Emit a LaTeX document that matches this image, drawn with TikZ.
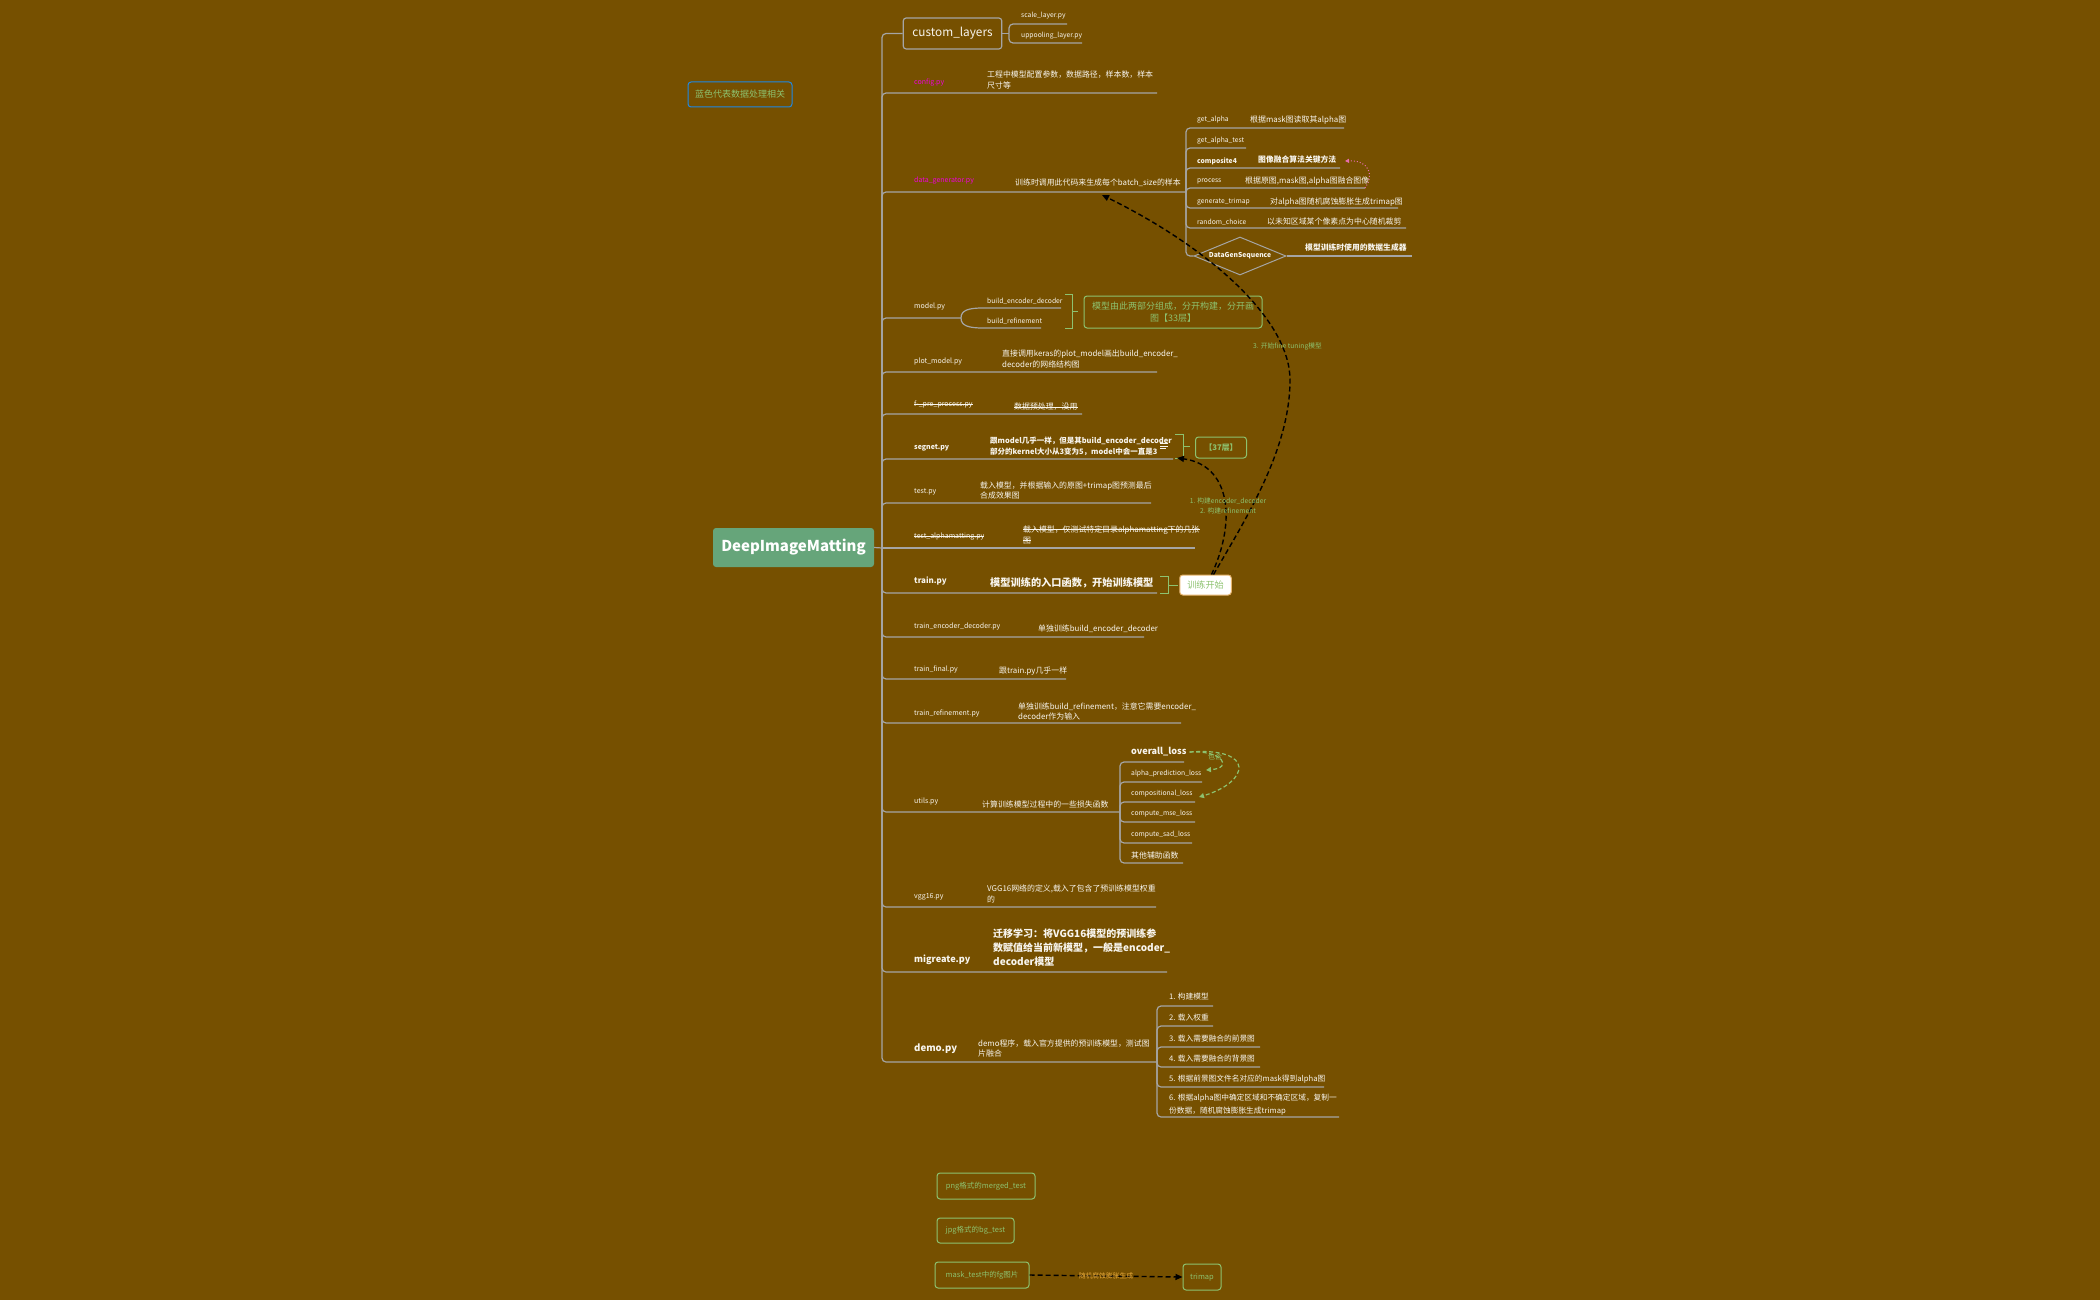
\documentclass[tikz,border=0pt]{standalone}
\usepackage{fontspec}
\setmainfont{Noto Sans CJK SC}
\usetikzlibrary{arrows.meta,shapes.geometric}
\definecolor{bg}{RGB}{118,80,0}
\definecolor{ln}{RGB}{165,165,165}
\definecolor{gr}{RGB}{141,194,111}
\definecolor{rootc}{RGB}{102,165,122}
\definecolor{mag}{RGB}{240,0,220}
\definecolor{pinkc}{RGB}{232,110,175}
\definecolor{bluec}{RGB}{30,136,229}
\definecolor{orc}{RGB}{232,170,60}
\definecolor{orb}{RGB}{230,180,110}
\definecolor{txt}{RGB}{248,245,238}
\newcommand\fsz[2]{\fontsize{#1}{#2}\selectfont}
\begin{document}
\begin{tikzpicture}[x=1pt,y=-1pt,
 conn/.style={draw=ln,line width=1.2pt,rounded corners=4pt},
 lbl/.style={anchor=west,inner sep=0pt,text=txt,font=\fsz{7}{8}},
 blbl/.style={lbl,font=\bfseries\fsz{7}{8}},
 sub/.style={anchor=west,inner sep=0pt,text=txt,font=\fsz{6.75}{8}},
 dsc/.style={anchor=west,inner sep=0pt,text=txt,font=\fsz{7.9}{10.5},align=left},
 bdsc/.style={anchor=west,inner sep=0pt,text=txt,font=\bfseries\fsz{7.8}{11},align=left},
 big/.style={anchor=west,inner sep=0pt,text=txt,font=\bfseries\fsz{9.1}{10}},
 gbox/.style={draw=gr,line width=1pt,rounded corners=3pt,text=gr,font=\fsz{7.5}{9},inner sep=0pt},
 darr/.style={draw=black,line width=1.4pt,dash pattern=on 5pt off 3pt,-{Triangle[length=7pt,width=6pt]}},
 garr/.style={draw=gr,line width=1.2pt,dash pattern=on 4pt off 2.5pt,-{Triangle[length=5pt,width=5pt]}},
 brk/.style={draw=gr,line width=1pt},
 strk/.style={draw=txt,line width=0.6pt},
]
\fill[bg] (0,0) rectangle (2100,1300);
\useasboundingbox (0,0) rectangle (2100,1300);

% legend
\node[draw=bluec,line width=1pt,rounded corners=3pt,text=gr,font=\fsz{9}{11},minimum width=104pt,minimum height=25pt,inner sep=0] (legend) at (740,94.5) {蓝色代表数据处理相关};

% root
\node[fill=rootc,rounded corners=3pt,text=white,font=\bfseries\fsz{15}{18},minimum width=161pt,minimum height=39pt,inner sep=0] (root) at (793.5,547.5) {DeepImageMatting};
\coordinate (J) at (882,548);
\draw[conn] (root.east) -- (J);

% custom_layers
\node[draw=ln,line width=1.2pt,rounded corners=3pt,text=txt,font=\fsz{11.8}{13},minimum width=98.6pt,minimum height=31pt,inner sep=0] (custom) at (952.5,33.5) {custom\_layers};
\draw[conn] (J) |- (custom.west);
\coordinate (cJ) at (1009,33.5);
\draw[conn] (custom.east) -- (cJ);
\node[sub] (scale) at (1021,16) {scale\_layer.py};
\coordinate (e_scale) at (1067,24);
\draw[conn] (cJ) |- (e_scale);
\node[sub] (upp) at (1021,36) {uppooling\_layer.py};
\coordinate (e_upp) at (1082,43);
\draw[conn] (cJ) |- (e_upp);

% config
\node[lbl,text=mag] (config) at (914,83) {config.py};
\node[dsc] (config_d) at (987,80) {工程中模型配置参数，数据路径，样本数，样本\\尺寸等};
\coordinate (e_config) at (1157,93);
\draw[conn] (J) |- (e_config);

% data_generator
\node[lbl,text=mag] (datagen) at (914,181) {data\_generator.py};
\node[dsc] (datagen_d) at (1015,183) {训练时调用此代码来生成每个batch\_size的样本};
\coordinate (gJ) at (1186,192);
\draw[conn] (J) |- (gJ);
\node[sub] (ga) at (1197,120) {get\_alpha};
\node[dsc] (ga_d) at (1250,120) {根据mask图读取其alpha图};
\coordinate (e_ga) at (1344,128);
\draw[conn] (gJ) |- (e_ga);
\node[sub] (gat) at (1197,141) {get\_alpha\_test};
\coordinate (e_gat) at (1246,148);
\draw[conn] (gJ) |- (e_gat);
\node[sub,font=\bfseries\fsz{6.75}{8}] (c4) at (1197,161) {composite4};
\node[bdsc] (c4_d) at (1258,160) {图像融合算法关键方法};
\coordinate (e_c4) at (1340,168);
\draw[conn] (gJ) |- (e_c4);
\node[sub] (proc) at (1197,181) {process};
\node[dsc] (proc_d) at (1245,181) {根据原图,mask图,alpha图融合图像};
\coordinate (e_proc) at (1365,188);
\draw[conn] (gJ) |- (e_proc);
\node[sub] (gt) at (1197,202) {generate\_trimap};
\node[dsc] (gt_d) at (1270,202) {对alpha图随机腐蚀膨胀生成trimap图};
\coordinate (e_gt) at (1398,208);
\draw[conn] (gJ) |- (e_gt);
\node[sub] (rc) at (1197,222) {random\_choice};
\node[dsc] (rc_d) at (1267,222) {以未知区域某个像素点为中心随机裁剪};
\coordinate (e_rc) at (1406,228);
\draw[conn] (gJ) |- (e_rc);
\node[diamond,draw=ln,line width=1pt,minimum width=92pt,minimum height=38pt,aspect=2.4,inner sep=0,text=txt,font=\bfseries\fsz{6.75}{8}] (dgs) at (1240,256) {DataGenSequence};
\draw[conn] (gJ) |- (dgs.west);
\coordinate (e_dgs) at (1412,256);
\draw[conn] (dgs.east) -- (e_dgs);
\node[bdsc] (dgs_d) at (1305,248) {模型训练时使用的数据生成器};
\coordinate (c4tip) at (1345,161);
\draw[pinkc,dotted,line width=1pt,-{Triangle[length=4pt,width=4pt]}] (e_proc) .. controls (1374,176) and (1370,160) .. (c4tip);

% model.py
\node[lbl] (model) at (914,307) {model.py};
\coordinate (mJ) at (961,318);
\draw[conn] (J) |- (mJ);
\node[sub] (bed) at (987,301) {build\_encoder\_decoder};
\node[sub] (bref) at (987,321) {build\_refinement};
\coordinate (e_bed) at (1061,308);
\coordinate (e_bref) at (1041,328);
\draw[draw=ln,line width=1.2pt] (mJ) .. controls (961,310) and (969,308) .. (983,308) -- (e_bed);
\draw[draw=ln,line width=1.2pt] (mJ) .. controls (961,326) and (969,328) .. (983,328) -- (e_bref);
\draw[brk] (1065,294) -- (1072,294) -- (1072,328) -- (1065,328);
\draw[brk] (1072,311) -- (1078,311);
\node[gbox,minimum width=178pt,minimum height=32pt,align=center,font=\fsz{9}{12}] (mnote) at (1173,312) {模型由此两部分组成，分开构建，分开画\\图【33层】};

% plot_model.py
\node[lbl] (plotm) at (914,362) {plot\_model.py};
\node[dsc] (plotm_d) at (1002,359) {直接调用keras的plot\_model画出build\_encoder\_\\decoder的网络结构图};
\coordinate (e_plotm) at (1157,372);
\draw[conn] (J) |- (e_plotm);

\node[text=gr,font=\fsz{6.75}{8},anchor=west,inner sep=0] (ft) at (1253,347) {3. 开始fine tuning模型};

% f-_pre_process.py
\node[lbl] (fpre) at (914,404) {f-\_pre\_process.py};
\draw[strk] ([yshift=2.2pt]fpre.base west) -- ([yshift=2.2pt]fpre.base east);
\node[dsc] (fpre_d) at (1014,407) {数据预处理，没用};
\draw[strk] ([yshift=2.8pt]fpre_d.base west) -- ([yshift=2.8pt]fpre_d.base east);
\coordinate (e_fpre) at (1082,414);
\draw[conn] (J) |- (e_fpre);

% segnet.py
\node[blbl] (segnet) at (914,448) {segnet.py};
\node[bdsc,font=\bfseries\fsz{7.5}{11}] (segnet_d) at (990,446.5) {跟model几乎一样，但是其build\_encoder\_decoder\\部分的kernel大小从3变为5，model中会一直是3};
\coordinate (e_segnet) at (1173,459);
\draw[conn] (J) |- (e_segnet);
\draw[txt,line width=0.6pt] (1160,443.5) -- (1168,443.5) (1160,446) -- (1168,446) (1160,448.5) -- (1166,448.5);
\draw[brk] (1175,434) -- (1183,434) -- (1183,458) -- (1175,458);
\draw[brk] (1183,446) -- (1190,446);
\node[gbox,minimum width=51pt,minimum height=21pt,font=\bfseries\fsz{7.8}{9}] (l37) at (1221,447.5) {【37层】};

% test.py
\node[lbl] (testpy) at (914,492) {test.py};
\node[dsc] (testpy_d) at (980,490.5) {载入模型，并根据输入的原图+trimap图预测最后\\合成效果图};
\coordinate (e_testpy) at (1151,503);
\draw[conn] (J) |- (e_testpy);

% test_alphamatting.py
\node[lbl] (talpha) at (914,537) {test\_alphamatting.py};
\draw[strk] ([yshift=2.2pt]talpha.base west) -- ([yshift=2.2pt]talpha.base east);
\node[dsc] (talpha_d1) at (1023,530) {载入模型，仅测试特定目录alphamatting下的几张};
\node[dsc] (talpha_d2) at (1023,540.5) {图};
\draw[strk] ([yshift=2.8pt]talpha_d1.base west) -- ([yshift=2.8pt]talpha_d1.base east);
\draw[strk] ([yshift=2.8pt]talpha_d2.base west) -- ([yshift=2.8pt]talpha_d2.base east);
\coordinate (e_talpha) at (1195,548);
\draw[conn] (J) -- (e_talpha);

% train.py
\node[lbl,font=\bfseries\fsz{8}{9}] (train) at (914,581) {train.py};
\node[bdsc,font=\bfseries\fsz{10.2}{12}] (train_d) at (990,583) {模型训练的入口函数，开始训练模型};
\coordinate (e_train) at (1157,593);
\draw[conn] (J) |- (e_train);
\draw[brk] (1160,576) -- (1168,576) -- (1168,593) -- (1160,593);
\draw[brk] (1168,585) -- (1178,585);
\node[fill=white,draw=orb,line width=1pt,rounded corners=3pt,text=gr,font=\fsz{9.1}{10},minimum width=51.5pt,minimum height=20pt,inner sep=0] (tbox) at (1205.5,585) {训练开始};

% train_encoder_decoder.py
\node[lbl] (ted) at (914,627) {train\_encoder\_decoder.py};
\node[dsc] (ted_d) at (1038,629) {单独训练build\_encoder\_decoder};
\coordinate (e_ted) at (1144,637);
\draw[conn] (J) |- (e_ted);

% train_final.py
\node[lbl] (tfin) at (914,669) {train\_final.py};
\node[dsc] (tfin_d) at (999,671) {跟train.py几乎一样};
\coordinate (e_tfin) at (1066,679);
\draw[conn] (J) |- (e_tfin);

% train_refinement.py
\node[lbl] (tref) at (914,713) {train\_refinement.py};
\node[dsc] (tref_d) at (1018,711.5) {单独训练build\_refinement，注意它需要encoder\_\\decoder作为输入};
\coordinate (e_tref) at (1181,723);
\draw[conn] (J) |- (e_tref);

% utils.py
\node[lbl] (utils) at (914,802) {utils.py};
\node[dsc] (utils_d) at (982,804) {计算训练模型过程中的一些损失函数};
\coordinate (uJ) at (1120,812);
\draw[conn] (J) |- (uJ);
\node[big] (overall) at (1131,752) {overall\_loss};
\coordinate (e_overall) at (1184,762);
\draw[conn] (uJ) |- (e_overall);
\node[sub] (apl) at (1131,774) {alpha\_prediction\_loss};
\coordinate (e_apl) at (1202,782);
\draw[conn] (uJ) |- (e_apl);
\node[sub] (cpl) at (1131,794) {compositional\_loss};
\coordinate (e_cpl) at (1195,802);
\draw[conn] (uJ) |- (e_cpl);
\node[sub] (mse) at (1131,814) {compute\_mse\_loss};
\coordinate (e_mse) at (1195,822);
\draw[conn] (uJ) |- (e_mse);
\node[sub] (sad) at (1131,835) {compute\_sad\_loss};
\coordinate (e_sad) at (1192,843);
\draw[conn] (uJ) |- (e_sad);
\node[dsc] (oth) at (1131,855) {其他辅助函数};
\coordinate (e_oth) at (1183,863);
\draw[conn] (uJ) |- (e_oth);
\coordinate (a_apl) at (1206,770);
\coordinate (a_cpl) at (1199,797);
\draw[garr] ([xshift=3pt]overall.east) .. controls (1222,750) and (1234,768) .. (a_apl);
\draw[garr] ([xshift=3pt]overall.east) .. controls (1256,747) and (1250,782) .. (a_cpl);
\node[text=gr,font=\fsz{7}{8},inner sep=0] (baohan) at (1215,757) {包含};

% vgg16.py
\node[lbl] (vgg) at (914,897) {vgg16.py};
\node[dsc] (vgg_d) at (987,894) {VGG16网络的定义,载入了包含了预训练模型权重\\的};
\coordinate (e_vgg) at (1156,907);
\draw[conn] (J) |- (e_vgg);

% migreate.py
\node[big] (mig) at (914,960) {migreate.py};
\node[bdsc,font=\bfseries\fsz{10}{14}] (mig_d) at (993,948) {迁移学习：将VGG16模型的预训练参\\数赋值给当前新模型，一般是encoder\_\\decoder模型};
\coordinate (e_mig) at (1167,972);
\draw[conn] (J) |- (e_mig);

% demo.py
\node[big,font=\bfseries\fsz{9.6}{11}] (demo) at (914,1049) {demo.py};
\node[dsc] (demo_d) at (978,1048.5) {demo程序，载入官方提供的预训练模型，测试图\\片融合};
\coordinate (dJ) at (1157,1062);
\draw[conn] (J) |- (dJ);
\node[dsc,font=\fsz{7.7}{10.5}] (d1) at (1169,997) {1. 构建模型};
\coordinate (e_d1) at (1213,1006);
\draw[conn] (dJ) |- (e_d1);
\node[dsc,font=\fsz{7.7}{10.5}] (d2) at (1169,1018) {2. 载入权重};
\coordinate (e_d2) at (1213,1026);
\draw[conn] (dJ) |- (e_d2);
\node[dsc,font=\fsz{7.7}{10.5}] (d3) at (1169,1039) {3. 载入需要融合的前景图};
\coordinate (e_d3) at (1260,1047);
\draw[conn] (dJ) |- (e_d3);
\node[dsc,font=\fsz{7.7}{10.5}] (d4) at (1169,1059) {4. 载入需要融合的背景图};
\coordinate (e_d4) at (1260,1067);
\draw[conn] (dJ) |- (e_d4);
\node[dsc,font=\fsz{7.7}{10.5}] (d5) at (1169,1079) {5. 根据前景图文件名对应的mask得到alpha图};
\coordinate (e_d5) at (1324,1087);
\draw[conn] (dJ) |- (e_d5);
\node[dsc,font=\fsz{7.7}{12.5}] (d6) at (1169,1104.5) {6. 根据alpha图中确定区域和不确定区域，复制一\\份数据，随机腐蚀膨胀生成trimap};
\coordinate (e_d6) at (1339,1117);
\draw[conn] (dJ) |- (e_d6);

% dashed arrows from 训练开始
\coordinate (segArr) at (1177,458);
\coordinate (dgArr) at (1102,195);
\coordinate (bend) at (1290,380);
\draw[darr] ([xshift=6pt]tbox.north) .. controls (1237,520) and (1230,465) .. (segArr);
\draw[darr] ([xshift=8pt]tbox.north) .. controls (1245,520) and (1290,450) .. (bend) .. controls (1290,320) and (1210,248) .. (dgArr);
\node[text=gr,font=\fsz{6.75}{10},align=center,inner sep=0] (steps) at (1228,506) {1. 构建encoder\_decoder\\2. 构建refinement};

% bottom boxes
\node[gbox,minimum width=98pt,minimum height=26pt] (merged) at (986,1186) {png格式的merged\_test};
\node[gbox,minimum width=77pt,minimum height=25pt] (bgt) at (975.5,1230.5) {jpg格式的bg\_test};
\node[gbox,minimum width=94pt,minimum height=26pt] (maskt) at (982,1275) {mask\_test中的fg图片};
\node[gbox,minimum width=38pt,minimum height=26pt] (trimapn) at (1202,1277) {trimap};
\draw[darr] (maskt.east) -- node[text=orc,font=\fsz{6.8}{8},inner sep=0] {随机腐蚀膨胀生成} (trimapn.west);
\end{tikzpicture}
\end{document}
